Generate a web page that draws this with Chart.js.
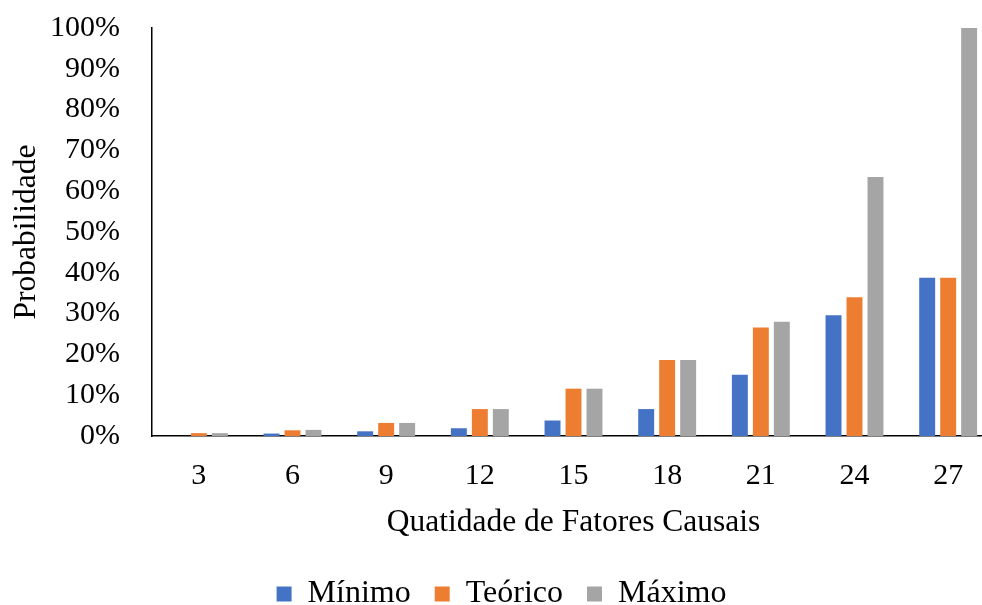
<!DOCTYPE html>
<html>
<head>
<meta charset="utf-8">
<script src="https://cdn.jsdelivr.net/npm/chart.js@4/dist/chart.umd.min.js"></script>
<style>
  html, body { margin: 0; padding: 0; background: #fff; overflow: hidden; }
  /* the plot area runs a little past the right and bottom edges of the view */
  #wrap { width: 982px; height: 605px; overflow: hidden; }
</style>
</head>
<body>
<div id="wrap"><canvas id="c" width="995" height="620"></canvas></div>
<script>
// Number of causal factors (x categories)
const categories = ['3', '6', '9', '12', '15', '18', '21', '24', '27'];
// Probability (%) per scenario
const minimo  = [0.0, 0.6, 1.15, 1.9, 3.8, 6.6, 15.0, 29.6, 38.8];
const teorico = [0.7, 1.4, 3.2, 6.6, 11.6, 18.6, 26.6, 34.0, 38.8];
const maximo  = [0.7, 1.5, 3.2, 6.6, 11.6, 18.6, 28.0, 63.5, 100.0];
const yTicks  = [0, 10, 20, 30, 40, 50, 60, 70, 80, 90, 100];

const FONT = "'Liberation Serif', 'Times New Roman', serif";

const ds = (label, data, color) => ({
  label, data,
  backgroundColor: color,
  borderWidth: 0,
  categoryPercentage: 0.672,
  barPercentage: 0.76
});

new Chart(document.getElementById('c'), {
  type: 'bar',
  data: {
    labels: categories,
    datasets: [
      ds('Mínimo', minimo, '#4472C4'),
      ds('Teórico', teorico, '#ED7D31'),
      ds('Máximo', maximo, '#A5A5A5')
    ]
  },
  options: {
    responsive: false,
    animation: false,
    layout: { padding: { top: 28, right: 0, left: 8, bottom: 0 } },
    plugins: {
      tooltip: { enabled: false },
      legend: {
        position: 'bottom',
        labels: {
          color: '#000',
          font: { family: FONT, size: 32 },
          boxWidth: 15,
          boxHeight: 15,
          padding: 24
        }
      }
    },
    scales: {
      x: {
        grid: { display: false },
        border: { display: true, color: '#000', width: 1.5 },
        ticks: { color: '#000', font: { family: FONT, size: 30 }, padding: 14 },
        title: {
          display: true,
          text: 'Quatidade de Fatores Causais',
          color: '#000',
          font: { family: FONT, size: 31.5 },
          padding: { top: 8, bottom: 12 }
        },
        afterFit: s => { s.height = 118; }
      },
      y: {
        min: 0, max: 100,
        // no grid lines; tickLength only sets the gap between labels and axis
        grid: { display: false, drawTicks: true, tickLength: 24 },
        border: { display: true, color: '#000', width: 1.5 },
        afterBuildTicks: s => { s.ticks = yTicks.map(v => ({ value: v })); },
        ticks: {
          color: '#000',
          autoSkip: false,
          font: { family: FONT, size: 30 },
          padding: 8,
          callback: v => v + '%'
        },
        title: {
          display: true,
          text: 'Probabilidade',
          color: '#000',
          font: { family: FONT, size: 31.5 },
          padding: { top: 0, bottom: 0 }
        },
        afterFit: s => { s.width = 144; }
      }
    }
  }
});
</script>
</body>
</html>
